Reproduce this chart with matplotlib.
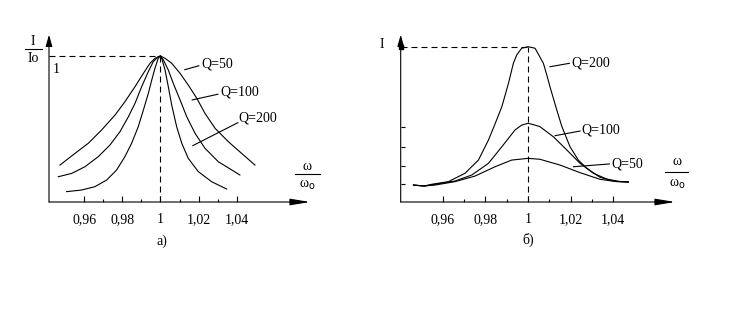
import numpy as np
import matplotlib
matplotlib.use("Agg")
import matplotlib.pyplot as plt
from matplotlib.lines import Line2D

plt.rcParams['font.family'] = ['Liberation Serif', 'DejaVu Serif']
FS = 10

# --- panel a): normalised resonance curves I/Io ---
a_q50_x = [0.9471, 0.9550, 0.9620, 0.9690, 0.9761, 0.9813, 0.9866, 0.9910, 0.9945, 0.9971, 1.0,
           1.0024, 1.0059, 1.0103, 1.0146, 1.0191, 1.0234, 1.0287, 1.0357, 1.0427, 1.0497]
a_q50_y = [0.253, 0.333, 0.402, 0.493, 0.596, 0.687, 0.790, 0.881, 0.950, 0.984, 1.0,
           0.984, 0.950, 0.881, 0.801, 0.710, 0.607, 0.505, 0.413, 0.333, 0.253]

a_q100_x = [0.9462, 0.9533, 0.9603, 0.9673, 0.9734, 0.9787, 0.9831, 0.9866, 0.9901, 0.9936,
            0.9962, 0.9988, 1.0, 1.0015, 1.0041, 1.0067, 1.0103, 1.0138, 1.0182, 1.0234,
            1.0304, 1.0418]
a_q100_y = [0.173, 0.196, 0.242, 0.311, 0.390, 0.482, 0.584, 0.676, 0.790, 0.893,
            0.961, 0.995, 1.0, 0.973, 0.904, 0.813, 0.699, 0.584, 0.470, 0.368,
            0.276, 0.185]

a_q200_x = [0.9506, 0.9585, 0.9655, 0.9717, 0.9769, 0.9813, 0.9848, 0.9883, 0.9910, 0.9936,
            0.9954, 0.9971, 0.9988, 1.0, 1.0006, 1.0024, 1.0041, 1.0059, 1.0085, 1.0112,
            1.0146, 1.0199, 1.0269, 1.0348]
a_q200_y = [0.071, 0.082, 0.105, 0.151, 0.219, 0.311, 0.402, 0.516, 0.630, 0.744,
            0.836, 0.916, 0.984, 1.0, 0.984, 0.904, 0.790, 0.664, 0.516, 0.402,
            0.299, 0.208, 0.139, 0.089]

# --- panel б): absolute current I ---
b_q200_x = [0.9462, 0.9512, 0.9548, 0.9626, 0.9704, 0.9767, 0.9814, 0.9843, 0.9877, 0.9908,
            0.9931, 0.9947, 0.9970, 1.0, 1.0033, 1.0072, 1.0088, 1.0103, 1.0135, 1.0158,
            1.0197, 1.0236, 1.0276, 1.0338, 1.0400, 1.0471]
b_q200_y = [0.109, 0.103, 0.114, 0.131, 0.185, 0.270, 0.399, 0.496, 0.614, 0.764,
            0.893, 0.947, 0.990, 1.0, 0.990, 0.893, 0.818, 0.742, 0.592, 0.489,
            0.356, 0.270, 0.217, 0.159, 0.135, 0.129]

b_q100_x = [0.9462, 0.9512, 0.9563, 0.9657, 0.9736, 0.9814, 0.9877, 0.9939, 0.9970, 1.0,
            1.0033, 1.0056, 1.0119, 1.0182, 1.0244, 1.0307, 1.0369, 1.0432, 1.0471]
b_q100_y = [0.109, 0.103, 0.114, 0.135, 0.174, 0.249, 0.356, 0.464, 0.495, 0.507,
            0.495, 0.485, 0.420, 0.335, 0.249, 0.185, 0.148, 0.131, 0.129]

b_q50_x = [0.9462, 0.9512, 0.9563, 0.9657, 0.9751, 0.9845, 0.9923, 1.0,
           1.0056, 1.0150, 1.0244, 1.0338, 1.0416, 1.0471]
b_q50_y = [0.109, 0.103, 0.109, 0.131, 0.167, 0.227, 0.270, 0.281,
           0.275, 0.238, 0.189, 0.146, 0.131, 0.129]

b_yticks = [0.116, 0.232, 0.352, 0.485]

major_ticks = [0.96, 0.98, 1.0, 1.02, 1.04]
major_labels = ['0,96', '0,98', '1', '1,02', '1,04']
minor_ticks = [0.97, 0.99, 1.01, 1.03]

fig = plt.figure(figsize=(7.37, 3.22), dpi=100)
W, H = 737.0, 322.0

ax_a = fig.add_axes([49 / W, 1 - 202 / H, 261 / W, 164 / H])
ax_b = fig.add_axes([400.7 / W, 1 - 202 / H, 274.3 / W, 164 / H])
ax_a.set_xlim(0.94132, 1.07868)
ax_a.set_ylim(0, 1.123)
ax_b.set_xlim(0.9402, 1.0690)
ax_b.set_ylim(0, 1.056)

line_kw = dict(color='black', lw=0.8)
dash_kw = dict(color='black', lw=0.8, linestyle=(0, (5.4, 3.6)))

for ax in (ax_a, ax_b):
    for s in ax.spines.values():
        s.set_visible(False)
    ax.patch.set_alpha(0)
    ax.set_xticks(major_ticks)
    ax.set_xticklabels(major_labels, fontsize=FS)
    ax.set_xticks(minor_ticks, minor=True)
    ax.tick_params(axis='x', which='major', direction='in', length=4, width=0.8, pad=8)
    ax.tick_params(axis='x', which='minor', direction='in', length=2.5, width=0.8)
    # axis lines with arrowheads
    ax.annotate('', xy=(1, 0), xytext=(0, 0), xycoords='axes fraction',
                arrowprops=dict(arrowstyle='-|>,head_length=1.2,head_width=0.2',
                                lw=0.8, color='black', shrinkA=0, shrinkB=0),
                annotation_clip=False)
    ax.annotate('', xy=(0, 1.02), xytext=(0, 0), xycoords='axes fraction',
                arrowprops=dict(arrowstyle='-|>,head_length=0.7,head_width=0.2',
                                lw=0.8, color='black', shrinkA=0, shrinkB=0),
                annotation_clip=False)

ax_a.set_yticks([])
ax_b.set_yticks(b_yticks)
ax_b.set_yticklabels([])
ax_b.tick_params(axis='y', direction='in', length=3, width=0.8)

# panel a
ax_a.plot(a_q50_x, a_q50_y, **line_kw)
ax_a.plot(a_q100_x, a_q100_y, **line_kw)
ax_a.plot(a_q200_x, a_q200_y, **line_kw)
x0a = ax_a.get_xlim()[0]
ax_a.plot([x0a, 1.0], [1.0, 1.0], **dash_kw)
ax_a.plot([1.0, 1.0], [0, 1.0], **dash_kw)
ax_a.text(0.9451, 0.905, '1', fontsize=FS, ha='center', va='center')

a_labels = [('Q=50', (1.0128, 0.906), (1.0202, 0.933), (1.0214, 0.945)),
            ('Q=100', (1.0167, 0.699), (1.0302, 0.738), (1.0314, 0.754)),
            ('Q=200', (1.0170, 0.386), (1.0407, 0.543), (1.0412, 0.572))]
for txt, p0, p1, pt in a_labels:
    ax_a.plot([p0[0], p1[0]], [p0[1], p1[1]], **line_kw)
    ax_a.text(pt[0], pt[1], txt, fontsize=FS, ha='left', va='center')

# panel б
ax_b.plot(b_q200_x, b_q200_y, **line_kw)
ax_b.plot(b_q100_x, b_q100_y, **line_kw)
ax_b.plot(b_q50_x, b_q50_y, **line_kw)
x0b = ax_b.get_xlim()[0]
ax_b.plot([x0b, 1.0], [1.0, 1.0], **dash_kw)
ax_b.plot([1.0, 1.0], [0, 1.0], **dash_kw)
ax_b.plot([x0b], [1.0], 's', color='black', ms=3, clip_on=False)

b_labels = [('Q=200', (1.0103, 0.871), (1.0194, 0.893), (1.0205, 0.893)),
            ('Q=100', (1.0127, 0.427), (1.0244, 0.457), (1.0252, 0.464)),
            ('Q=50', (1.0213, 0.227), (1.0382, 0.245), (1.0393, 0.245))]
for txt, p0, p1, pt in b_labels:
    ax_b.plot([p0[0], p1[0]], [p0[1], p1[1]], **line_kw)
    ax_b.text(pt[0], pt[1], txt, fontsize=FS, ha='left', va='center')


def frac_label(xc, y_top, y_line, y_bot, top, bottom, x0, x1):
    fig.text(xc / W, 1 - y_top / H, top, fontsize=FS, ha='center', va='center')
    fig.add_artist(Line2D([x0 / W, x1 / W], [1 - y_line / H, 1 - y_line / H],
                          color='black', lw=0.8))
    fig.text(xc / W, 1 - y_bot / H, bottom, fontsize=FS, ha='center', va='center')


# axis captions
frac_label(33, 41.5, 49.3, 58.3, 'I', 'Io', 25, 41.7)
frac_label(307, 166.5, 174, 185, 'ω', 'ω$_{\\mathrm{o}}$', 295, 320)
frac_label(677, 161.5, 171.7, 184, 'ω', 'ω$_{\\mathrm{o}}$', 665, 688)
fig.text(381.7 / W, 1 - 45 / H, 'I', fontsize=FS, ha='center', va='center')

fig.text(162 / W, 1 - 241.7 / H, 'а)', fontsize=FS, ha='center', va='center')
fig.text(528.3 / W, 1 - 240 / H, 'б)', fontsize=FS, ha='center', va='center')

fig.savefig('out.png', dpi=100)
